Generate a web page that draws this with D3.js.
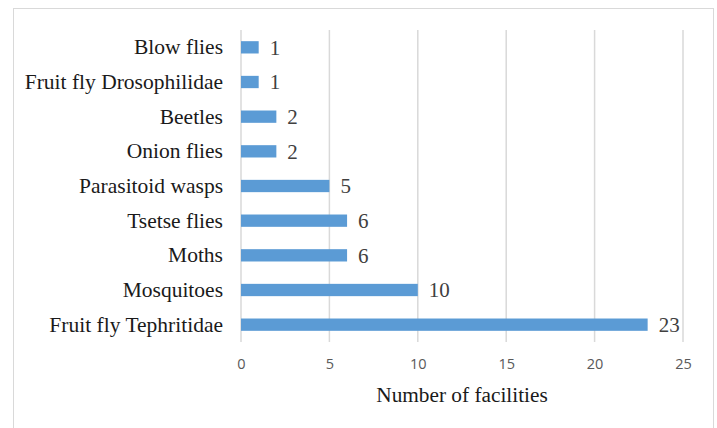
<!DOCTYPE html>
<html>
<head>
<meta charset="utf-8">
<script src="https://cdn.jsdelivr.net/npm/d3@7"></script>
<style>
  html, body { margin: 0; padding: 0; background: #fff; }
  svg { display: block; }
</style>
</head>
<body>
<svg id="chart" width="717" height="428"></svg>
<script>
// Facilities by insect group
const categories = ["Blow flies", "Fruit fly Drosophilidae", "Beetles", "Onion flies",
  "Parasitoid wasps", "Tsetse flies", "Moths", "Mosquitoes", "Fruit fly Tephritidae"];
const facilities = [1, 1, 2, 2, 5, 6, 6, 10, 23];
const xTicks = [0, 5, 10, 15, 20, 25];
const xTitle = "Number of facilities";

const svg = d3.select("#chart");
const plot = { left: 241, right: 683, top: 30, bottom: 342 };
const serif = "'Liberation Serif', 'Times New Roman', serif";

// outer frame
svg.append("rect")
  .attr("x", 13.5).attr("y", 8.5)
  .attr("width", 700).attr("height", 430)
  .attr("fill", "#fff").attr("stroke", "#d9d9d9").attr("stroke-width", 1);

const x = d3.scaleLinear().domain([0, 25]).range([plot.left, plot.right]);
const y = d3.scaleBand().domain(categories).range([plot.top, plot.bottom]).paddingInner(0.645).paddingOuter(0.3225);

// vertical gridlines
svg.append("g")
  .selectAll("line")
  .data(xTicks)
  .join("line")
  .attr("x1", d => x(d)).attr("x2", d => x(d))
  .attr("y1", plot.top).attr("y2", plot.bottom)
  .attr("stroke", "#d9d9d9").attr("stroke-width", 1.5);

// x axis labels
const xAxis = d3.axisBottom(x).tickValues(xTicks).tickSize(0).tickPadding(0);
const gx = svg.append("g").attr("transform", `translate(0,${plot.bottom + 17})`).call(xAxis);
gx.select(".domain").remove();
gx.selectAll("text")
  .attr("fill", "#595959")
  .attr("font-family", "'Open Sans', 'Liberation Sans', sans-serif")
  .attr("font-size", 14.5)
  .attr("dy", "0.71em");

// category labels
const yAxis = d3.axisLeft(y).tickSize(0).tickPadding(0);
const gy = svg.append("g").attr("transform", `translate(${plot.left - 18},0)`).call(yAxis);
gy.select(".domain").remove();
gy.selectAll("text")
  .attr("fill", "#1a1a1a")
  .attr("font-family", serif)
  .attr("font-size", 21.5);

// bars
svg.append("g")
  .selectAll("rect")
  .data(categories)
  .join("rect")
  .attr("x", x(0))
  .attr("y", d => y(d))
  .attr("width", (d, i) => x(facilities[i]) - x(0))
  .attr("height", y.bandwidth())
  .attr("fill", "#5b9bd5");

// value labels
svg.append("g")
  .selectAll("text")
  .data(categories)
  .join("text")
  .attr("x", (d, i) => x(facilities[i]) + 11)
  .attr("y", d => y(d) + y.bandwidth() / 2)
  .attr("dy", "0.35em")
  .attr("fill", "#404040")
  .attr("font-family", serif)
  .attr("font-size", 21)
  .text((d, i) => facilities[i]);

// x axis title
svg.append("text")
  .attr("x", (plot.left + plot.right) / 2)
  .attr("y", 395)
  .attr("dy", "0.35em")
  .attr("text-anchor", "middle")
  .attr("fill", "#1a1a1a")
  .attr("font-family", serif)
  .attr("font-size", 21.3)
  .text(xTitle);
</script>
</body>
</html>
